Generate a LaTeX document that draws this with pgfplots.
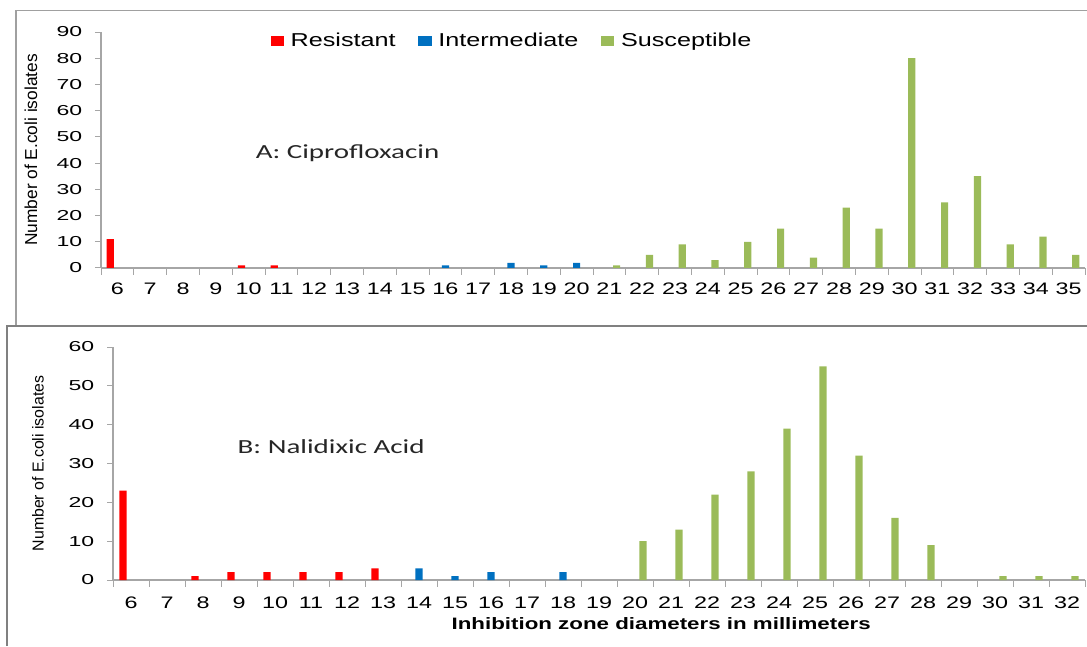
\documentclass[border=0pt]{standalone}
\usepackage{fontspec}
\setmainfont{Liberation Sans}
\newfontfamily\calibri{Carlito}
\usepackage{graphicx}
\usepackage{pgfplots}
\pgfplotsset{compat=1.18}
\definecolor{cres}{HTML}{FF0000}
\definecolor{cint}{HTML}{0070C0}
\definecolor{csus}{HTML}{9BBB59}
\definecolor{axgray}{HTML}{A6A6A6}
\definecolor{framegray}{HTML}{A0A0A0}

\pgfplotsset{
 panel/.style={
  scale only axis,
  axis lines*=left,
  axis line style={axgray, line width=0.9pt},
  ymin=0,
  ytick distance=10,
  tick align=outside,
  major tick length=4.5pt,
  minor tick length=5pt,
  every tick/.style={axgray, line width=0.75pt},
  xtick distance=1,
  major x tick style={draw=none},
  ybar, bar width=5.4pt,
  /pgf/number format/assume math mode=true,
  yticklabel={\scalebox{1.6}[1]{\pgfmathprintnumber{\tick}}},
  xticklabel={\scalebox{1.4}[1]{\pgfmathprintnumber{\tick}}},
  yticklabel style={font=\fontsize{10.8}{12}\selectfont, text=black, xshift=-6pt},
  xticklabel style={font=\fontsize{12.5}{14}\selectfont, text=black},
  legend image code/.code={\fill[##1] (0pt,-3.4pt) rectangle (10pt,3.4pt); \path (13pt,0pt);},
 }
}

\begin{document}
\begin{tikzpicture}
\path[use as bounding box] (0,0) rectangle (815.25pt,484.5pt);
% panel frames
\draw[framegray, line width=0.8pt] (815.25pt,476.5pt) -- (12pt,476.5pt) -- (12pt,240pt);
\draw[framegray!80!black, line width=0.9pt] (5.25pt,0pt) -- (5.25pt,240pt) -- (815.25pt,240pt);

% ---------- Panel A ----------
\begin{axis}[panel,
  at={(75.75pt,283.5pt)}, anchor=south west,
  width=738pt, height=177pt,
  xmin=5.5, xmax=35.5, ymax=90,
  xtick={6,...,35},
  minor xtick={5.5,6.5,...,35.5},
  xticklabel style={yshift=-3pt},
  ylabel={Number of E.coli isolates},
  every axis y label/.style={at={(axis description cs:-0.0711,0.5)}, rotate=90, anchor=center, font=\fontsize{13}{15}\selectfont},
  legend style={font=\fontsize{14}{16}\selectfont, draw=none, fill=none, legend columns=3,
    at={(axis description cs:0.418,0.962)}, anchor=center,
    /tikz/every even column/.append style={column sep=15pt}},
]
\addplot[fill=cres, draw=none, bar shift=-5.4pt] coordinates {(6,11) (10,1) (11,1)};
\addlegendentry{\scalebox{1.35}[1]{Resistant}}
\addplot[fill=cint, draw=none, bar shift=0pt] coordinates {(16,1) (18,2) (19,1) (20,2)};
\addlegendentry{\scalebox{1.35}[1]{Intermediate}}
\addplot[fill=csus, draw=none, bar shift=5.4pt] coordinates {(21,1) (22,5) (23,9) (24,3) (25,10) (26,15) (27,4) (28,23) (29,15) (30,80) (31,25) (32,35) (33,9) (34,12) (35,5)};
\addlegendentry{\scalebox{1.35}[1]{Susceptible}}
\node[anchor=base west, inner sep=0pt, font=\calibri\fontsize{15}{17}\selectfont, text=black!85] at (axis description cs:0.157,0.462) {\scalebox{1.45}[1]{A: Ciprofloxacin}};
\end{axis}

% ---------- Panel B ----------
\begin{axis}[panel,
  at={(84.75pt,49.5pt)}, anchor=south west,
  width=729pt, height=174.75pt,
  xmin=5.5, xmax=32.5, ymax=60,
  xtick={6,...,32},
  minor xtick={5.5,6.5,...,32.5},
  xticklabel style={yshift=-4.5pt},
  ylabel={Number of E.coli isolates},
  every axis y label/.style={at={(axis description cs:-0.0772,0.5)}, rotate=90, anchor=center, font=\fontsize{11.9}{14}\selectfont},
  xlabel={\textbf{\scalebox{1.35}[1]{Inhibition zone diameters in millimeters}}},
  every axis x label/.style={at={(axis description cs:0.564,-0.189)}, anchor=center, font=\fontsize{12.4}{14}\selectfont},
]
\addplot[fill=cres, draw=none, bar shift=-6pt] coordinates {(6,23) (8,1) (9,2) (10,2) (11,2) (12,2) (13,3)};
\addplot[fill=cint, draw=none, bar shift=0pt] coordinates {(14,3) (15,1) (16,2) (18,2)};
\addplot[fill=csus, draw=none, bar shift=6pt] coordinates {(20,10) (21,13) (22,22) (23,28) (24,39) (25,55) (26,32) (27,16) (28,9) (30,1) (31,1) (32,1)};
\node[anchor=base west, inner sep=0pt, font=\calibri\fontsize{15}{17}\selectfont, text=black!85] at (axis description cs:0.128,0.541) {\scalebox{1.45}[1]{B: Nalidixic Acid}};
\end{axis}
\end{tikzpicture}
\end{document}
